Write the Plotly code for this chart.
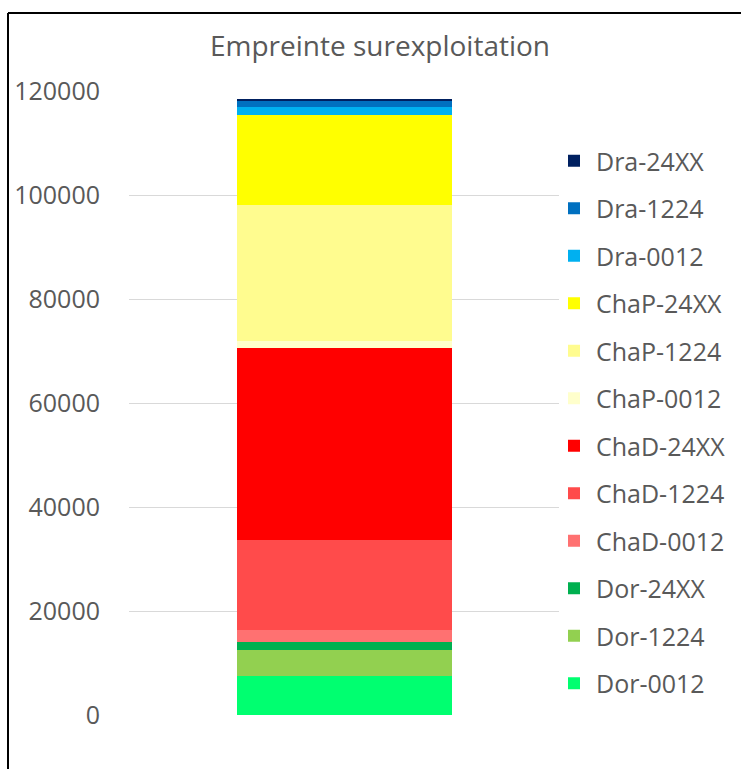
import plotly.graph_objects as go

category = ["Empreinte"]
series_names = ["Dor-0012", "Dor-1224", "Dor-24XX",
                "ChaD-0012", "ChaD-1224", "ChaD-24XX",
                "ChaP-0012", "ChaP-1224", "ChaP-24XX",
                "Dra-0012", "Dra-1224", "Dra-24XX"]
series_values = [7500, 4950, 1550,
                 2300, 17300, 36900,
                 1350, 26150, 17400,
                 1550, 1250, 300]
series_colors = ["#00FF70", "#92D050", "#00B050",
                 "#FF7171", "#FF4B4B", "#FF0000",
                 "#FFFFCC", "#FFFC8F", "#FFFF00",
                 "#00B0F0", "#0070C0", "#002060"]
y_ticks = [0, 20000, 40000, 60000, 80000, 100000, 120000]
y_tick_labels = ["0", "20000", "40000", "60000", "80000", "100000", "120000"]

fig = go.Figure()
for i, (name, val, col) in enumerate(zip(series_names, series_values, series_colors)):
    fig.add_trace(go.Bar(x=category, y=[val], name=name, marker_color=col,
                         marker_line_width=0, width=0.5, legendgroup=name,
                         legendrank=1000 - i))

W, H = 741, 769
L, T = 129, 91
R = W - 559
B = H - 715
pw, ph = W - L - R, H - T - B

def px_x(x):
    return (x - L) / pw

def px_y(y):
    return (H - B - y) / ph

fig.update_layout(
    width=W, height=H, barmode="stack",
    margin=dict(l=L, r=R, t=T, b=B, autoexpand=False),
    paper_bgcolor="white", plot_bgcolor="white",
    font=dict(family="Open Sans", color="#595959"),
    title=dict(text="Empreinte surexploitation", x=380 / W, xanchor="center",
               y=1 - 46 / H, yanchor="middle", yref="container",
               font=dict(size=28, color="#595959")),
    xaxis=dict(range=[-0.5, 0.5], showticklabels=False, showgrid=False,
               zeroline=False, showline=False),
    yaxis=dict(range=[0, 120000], tickvals=y_ticks, ticktext=y_tick_labels,
               showgrid=True, gridcolor="#D9D9D9", gridwidth=1, zeroline=False,
               showline=False, tickfont=dict(size=25, color="#595959"), ticks="",
               ticklabelstandoff=28),
    legend=dict(traceorder="grouped", tracegroupgap=12, itemwidth=34,
                x=px_x(552), xanchor="left", y=px_y(138), yanchor="top",
                font=dict(size=25, color="#595959"), bgcolor="rgba(0,0,0,0)"),
    showlegend=True,
    shapes=[
        dict(type="line", xref="paper", yref="paper",
             x0=px_x(8), x1=px_x(8), y0=px_y(769), y1=px_y(13),
             line=dict(color="black", width=2), layer="above"),
        dict(type="line", xref="paper", yref="paper",
             x0=px_x(8), x1=px_x(741), y0=px_y(13), y1=px_y(13),
             line=dict(color="black", width=2), layer="above"),
    ],
)

fig.write_html("out.html", config={"displayModeBar": False},
               post_script="document.body.style.margin='0';document.body.style.overflow='hidden';")
